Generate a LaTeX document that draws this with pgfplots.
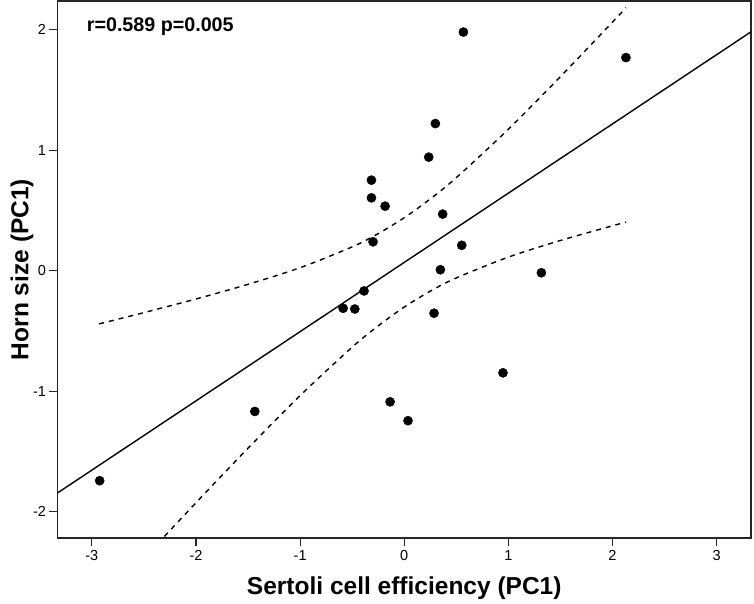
\documentclass[border=0pt]{standalone}
\usepackage{pgfplots}
\pgfplotsset{compat=1.18}
\usepackage{fontspec}
\setmainfont{Liberation Sans}
\begin{document}
\begin{tikzpicture}
\begin{axis}[
  at={(0pt,0pt)}, anchor=south west,
  scale only axis,
  width=693.5pt, height=537pt,
  xmin=-3.33, xmax=3.33,
  ymin=-2.22, ymax=2.24,
  xtick={-3,-2,-1,0,1,2,3},
  ytick={-2,-1,0,1,2},
  tick align=outside,
  major tick length=8pt,
  tick style={line width=1.2pt, black!85},
  xtick pos=bottom, ytick pos=left,
  axis line style={line width=1.6pt, black!85},
  /pgf/number format/assume math mode=true,
  xticklabel style={font=\fontsize{14.5}{16}\selectfont, yshift=-1pt},
  yticklabel style={font=\fontsize{14.5}{16}\selectfont},
  xlabel={Sertoli cell efficiency (PC1)},
  ylabel={Horn size (PC1)},
  label style={font=\fontsize{24.5}{28}\selectfont\bfseries},
  xlabel style={at={(axis description cs:0.5,-0.1061)}, anchor=base},
  ylabel style={at={(axis description cs:-0.0421,0.5)}, anchor=base},
  clip=true,
]
% regression line
\addplot[black, line width=1.4pt] coordinates {(-3.33,-1.846) (3.33,1.984)};
% upper confidence band
\addplot[black, line width=1.4pt, dash pattern=on 5pt off 5pt, smooth] coordinates {
(-2.93,-0.442) (-2.5,-0.348) (-2.0,-0.235) (-1.5,-0.113) (-1.0,0.025) (-0.5,0.198)
(-0.25,0.308) (0,0.440) (0.25,0.596) (0.5,0.773) (1.0,1.175) (1.5,1.612) (2.0,2.065) (2.13,2.185)};
% lower confidence band
\addplot[black, line width=1.4pt, dash pattern=on 5pt off 5pt, smooth] coordinates {
(-2.5,-2.389) (-2.0,-1.927) (-1.5,-1.474) (-1.0,-1.037) (-0.5,-0.635) (-0.25,-0.458)
(0,-0.302) (0.25,-0.170) (0.5,-0.060) (1.0,0.113) (1.5,0.251) (2.0,0.373) (2.13,0.403)};
% data points
\addplot[only marks, mark=*, mark size=4.6pt, black] coordinates {
(-2.925,-1.744) (-1.435,-1.169) (-0.587,-0.312) (-0.475,-0.318) (-0.386,-0.168)
(-0.315,0.752) (-0.315,0.605) (-0.300,0.240) (-0.184,0.536) (-0.136,-1.089)
(0.036,-1.246) (0.235,0.943) (0.286,-0.353) (0.299,1.222) (0.347,0.008)
(0.369,0.470) (0.552,0.211) (0.568,1.982) (0.948,-0.848) (1.317,-0.017) (2.129,1.770)};
\node[anchor=base west, font=\fontsize{19.7}{22}\selectfont\bfseries, inner sep=0pt]
  at (axis description cs:0.0421,0.9428) {r=0.589 p=0.005};
\end{axis}
\pgfresetboundingbox
\path (-57.5pt,-66pt) rectangle (696.5pt,538pt);
\end{tikzpicture}
\end{document}
